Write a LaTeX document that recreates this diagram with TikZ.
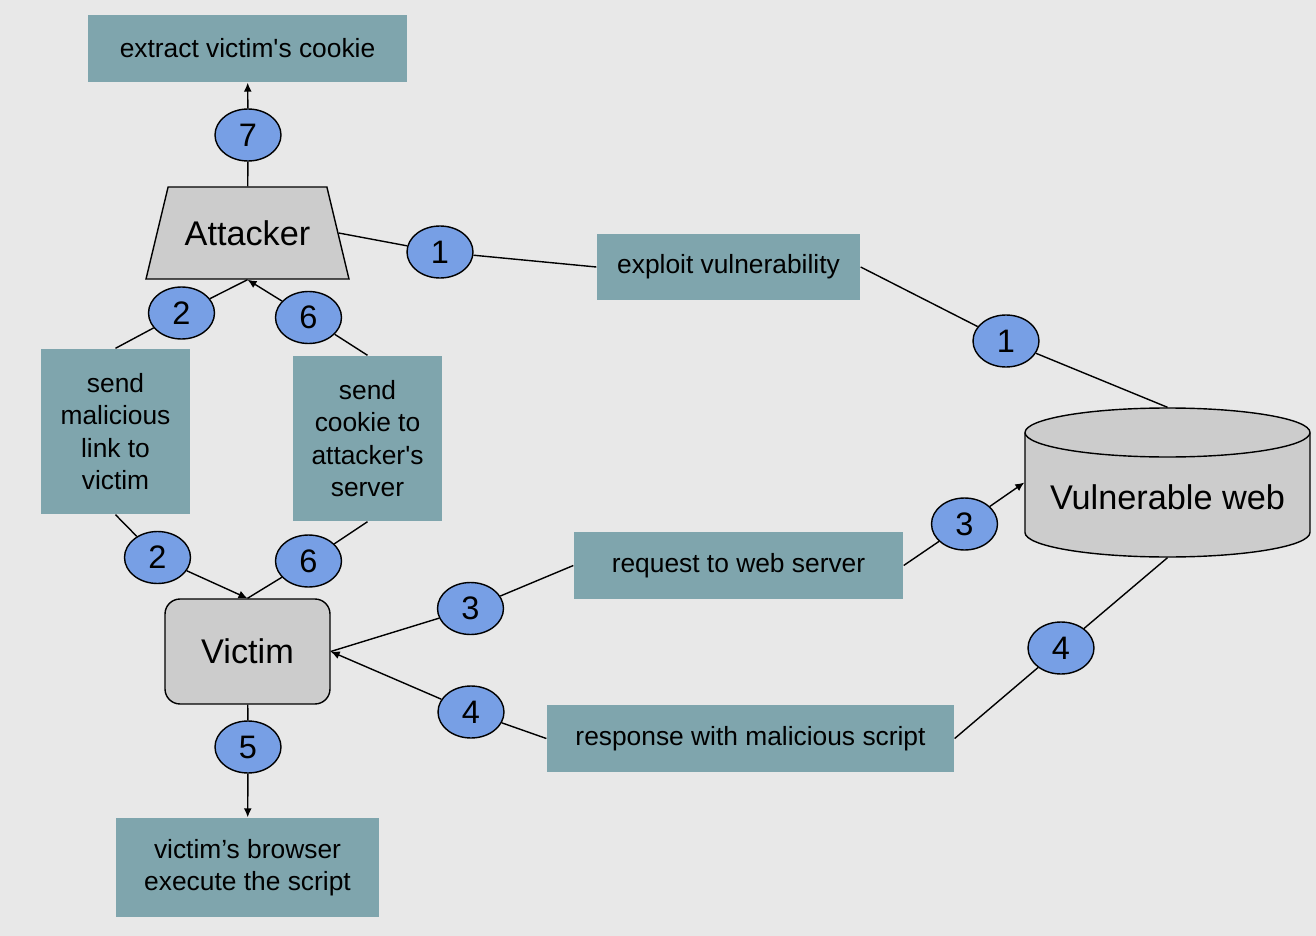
\documentclass[tikz,border=0pt]{standalone}
\usepackage{fontspec}
\setmainfont{Liberation Sans}
\usetikzlibrary{shapes.geometric, arrows.meta}

\definecolor{bgcol}{HTML}{E8E8E8}
\definecolor{notecol}{HTML}{7FA5AD}
\definecolor{numcol}{HTML}{779FE5}
\definecolor{actorcol}{HTML}{CCCCCC}

\begin{document}
\begin{tikzpicture}[
    x=0.02cm, y=-0.02cm,
    line width=0.8pt,
    note/.style={rectangle, fill=notecol, inner sep=0pt, align=center, font=\fontsize{15}{18.5}\selectfont},
    num/.style={ellipse, draw, fill=numcol, inner sep=0pt, minimum width=1.32cm, minimum height=1.04cm, font=\fontsize{18.5}{20}\selectfont},
    actor/.style={draw, fill=actorcol, font=\fontsize{19.5}{22}\selectfont},
    flow/.style={-{Latex[length=1.8mm, width=1.6mm]}}
  ]

  % background
  \fill[bgcol] (0,0) rectangle (1316,936);
  \useasboundingbox (0,0) rectangle (1316,936);

  % attacker and its result
  \node[note, minimum width=6.38cm, minimum height=1.34cm] (extract) at (247.5,48.5) {extract victim\textquotesingle s cookie};
  \node[num] (n7) at (248,135) {7};
  \node[actor, trapezium, trapezium angle=76.5, trapezium stretches body=true, minimum width=4.06cm, text height=0.5cm, text depth=0pt, inner ysep=0.67cm, inner xsep=0pt] (attacker) at (247.5,233) {Attacker};

  % exploit path
  \node[num] (n1a) at (440,252) {1};
  \node[note, minimum width=5.26cm, minimum height=1.32cm] (exploit) at (728.5,267) {exploit vulnerability};
  \node[num] (n1b) at (1006,341) {1};

  % vulnerable web (cylinder)
  \filldraw[fill=actorcol] (1025,432.5) -- (1025,532.5)
    arc[start angle=180, end angle=360, x radius=2.85cm, y radius=0.49cm]
    -- (1310,432.5)
    arc[start angle=0, end angle=180, x radius=2.85cm, y radius=0.49cm] -- cycle;
  \draw (1025,432.5) arc[start angle=180, end angle=360, x radius=2.85cm, y radius=0.49cm];
  \node[minimum width=5.7cm, minimum height=2.98cm, inner sep=0pt] (web) at (1167.5,482.5) {};
  \node[font=\fontsize{19.5}{22}\selectfont] at (1167.5,497) {Vulnerable web};

  % victim side
  \node[num] (n2a) at (181.5,313) {2};
  \node[num] (n6a) at (308.5,317.5) {6};
  \node[note, minimum width=2.98cm, minimum height=3.3cm] (link) at (115.5,431.5) {send\\malicious\\link to\\victim};
  \node[note, minimum width=2.98cm, minimum height=3.3cm] (cookie) at (367.5,438.5) {send\\cookie to\\attacker\textquotesingle s\\server};
  \node[num] (n2b) at (157.5,557.5) {2};
  \node[num] (n6b) at (308.5,561) {6};
  \node[actor, rectangle, rounded corners=0.3cm, minimum width=3.3cm, minimum height=2.1cm] (victim) at (247.5,651.5) {Victim};
  \node[num] (n5) at (248,747) {5};
  \node[note, minimum width=5.26cm, minimum height=1.98cm] (browser) at (247.5,867.5) {victim’s browser\\execute the script};

  % request / response
  \node[num] (n3a) at (470.5,608.5) {3};
  \node[note, minimum width=6.58cm, minimum height=1.34cm] (request) at (738.5,565.5) {request to web server};
  \node[num] (n3b) at (964.5,524) {3};
  \node[num] (n4a) at (471,712) {4};
  \node[note, minimum width=8.14cm, minimum height=1.34cm] (response) at (750.5,738.5) {response with malicious script};
  \node[num] (n4b) at (1061,648) {4};

  % connectors
  \draw (attacker) -- (n7);
  \draw[flow] (n7) -- (extract);
  \draw (attacker.east) -- (n1a);
  \draw (n1a) -- (exploit.west);
  \draw (exploit.east) -- (n1b);
  \draw (n1b) -- (web.north);

  \draw (attacker.south) -- (n2a);
  \draw (n2a) -- (link.north);
  \draw (link.south) -- (n2b);
  \draw[flow] (n2b) -- (victim.north);

  \draw (victim.north) -- (n6b);
  \draw (n6b) -- (cookie.south);
  \draw (cookie.north) -- (n6a);
  \draw[flow] (n6a) -- (attacker.south);

  \draw (victim.east) -- (n3a);
  \draw (n3a) -- (request.west);
  \draw (request.east) -- (n3b);
  \draw[flow] (n3b) -- (web.west);

  \draw (web.south) -- (n4b);
  \draw (n4b) -- (response.east);
  \draw (response.west) -- (n4a);
  \draw[flow] (n4a) -- (victim.east);

  \draw (victim) -- (n5);
  \draw[flow] (n5) -- (browser);

\end{tikzpicture}
\end{document}
